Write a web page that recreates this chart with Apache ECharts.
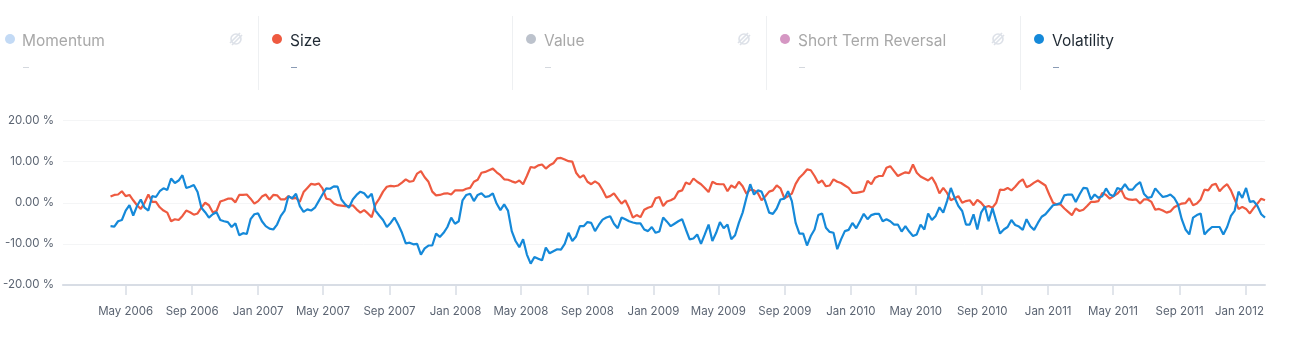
<!DOCTYPE html>
<html>
<head>
<meta charset="utf-8">
<script src="https://cdn.jsdelivr.net/npm/echarts@6/dist/echarts.min.js"></script>
<style>
html, body { margin: 0; padding: 0; background: #fff; }
#main { width: 1289px; height: 340px; }
</style>
</head>
<body>
<div id="main"></div>
<script>
// weekly factor returns, in percent, first week below
var firstWeek = '2006-04-03';

var sizeValues = [
    1.5, 1.9, 2.0, 2.8, 1.6, 1.9, 0.6, -0.6, -1.5, 0, 2.0, 0.2, 0.2, -1.1, -1.9, -2.4, -4.5, -4.0, -4.2, -3.2,
    -1.9, -2.3, -2.9, -2.6, -1.2, 0, -0.6, -2.3, -2.0, 0.3, 0.6, 1.0, 1.0, 0.1, 1.9, 1.9, 2.0, 1.0, -0.2, 0.4,
    1.5, 2.0, 0.8, 1.9, 1.8, 0.8, 0.8, 1.6, 1.0, 1.2, 0.2, 2.6, 3.6, 4.6, 4.4, 4.7, 3.5, 1.0, 0.8,
    -0.2, -0.6, -0.7, -0.8, -0.8, -0.6, -1.6, -2.4, -1.8, -2.6, -3.5, -0.4, 1.0, 2.7, 3.9, 4.1, 4.0, 4.2, 4.9, 5.7,
    5.1, 5.3, 7.1, 7.7, 6.2, 5.1, 2.7, 1.8, 1.9, 2.2, 2.3, 2.0, 3.0, 3.0, 3.0, 3.4, 3.6, 5.1, 5.6, 7.3,
    7.5, 7.9, 8.3, 7.4, 6.7, 5.7, 5.6, 5.2, 4.9, 5.4, 4.5, 6.5, 8.7, 8.5, 9.1, 9.3, 8.3, 9.1, 9.6, 10.8,
    10.9, 10.5, 10.1, 10.0, 7.3, 6.1, 6.7, 5.1, 4.5, 5.2, 4.6, 3.1, 1.3, 1.6, 2.3, 1.0, -0.2, 0.6, -1.3, -3.6,
    -3.0, -3.5, -1.7, -1.2,
    -0.9, 1.1, 1.4, -0.8, 0.3, 0.6, 1.1, 2.7, 3.0, 4.9, 4.5, 5.9, 5.1, 4.5, 3.6, 2.6, 5.1, 4.6, 4.5, 4.5,
    2.8, 4.2, 3.6, 5.1, 4.0, 2.2, 3.2, 3.0, 2.4, 0.6, 1.6, 2.7, 3.0, 4.2, 3.5, 1.1, 1.6, 2.2, 4.6, 6.1,
    7.0, 8.1, 7.9, 6.5, 4.8, 5.4, 4.0, 4.2, 5.7, 5.1, 4.8, 4.2, 3.6, 2.4, 2.4, 2.6, 2.8, 5.3, 4.5, 6.1,
    6.5, 6.5, 8.5, 8.9, 7.7, 6.5, 7.0, 7.4, 7.2, 9.3, 7.3, 6.4, 5.9, 5.4, 6.2, 4.6, 2.3, 3.6, 2.4, 0.6,
    1.1, 1.6, 0, 0.4,
    0.6, -0.6, 0.7, 0, -1.1, -0.8, -1.2, 0, 3.2, 3.1, 3.6, 3.0, 3.9, 5.0, 5.7, 3.8, 4.2, 4.9, 5.4, 4.8,
    4.2, 2.0, 0, -0.4, -0.4, -1.4, -2.2, -3.0, -1.4, -2.0, -1.7, -0.8, 0.2, 0.2, 0.4, 2.4, 1.9, 1.0, 1.6, 2.2,
    3.2, 1.2, 0.8, 0.7, 0.8, -0.2, 0.8, 0.8, 0.2, -1.7, -1.5, -1.9, -2.4, -2.1, -1.1, -0.6, -0.2, -0.1, 1.1, -0.6,
    -0.2, 0.8, 3.2, 3.0, 4.3, 4.6, 2.8, 3.8, 4.5, 3.0, 0.8, -1.5, -1.0, -1.5, -2.6, -1.3, -0.2, 1.0, 0.6
];

var volatilityValues = [
    -5.7, -5.8, -4.5, -4.2, -1.9, -0.6, -3.1, -0.8, 0.8, -1.2, -1.9, 1.6, 1.4, 2.8, 3.5, 3.1, 5.9, 4.8, 5.4, 6.7,
    3.6, 3.9, 4.3, 2.6, -1.2, -2.3, -3.6, -2.8, -2.3, -4.2, -4.5, -4.7, -5.9, -5.0, -7.9, -7.4, -7.6, -4.0, -2.8, -2.6,
    -4.5, -5.7, -6.3, -6.5, -5.3, -3.2, -1.9, 1.6, 1.1, 2.2, -0.8, -2.2, -1.6, -1.9, -1.2, 0.4, 2.0, 3.5, 3.4,
    4.0, 3.9, 0.8, -0.4, -1.2, 0.8, 1.9, 2.7, 2.3, 1.2, 2.2, -1.9, -3.1, -4.2, -5.9, -4.9, -3.6, -5.3, -7.3, -9.9,
    -9.7, -10.1, -10.0, -12.6, -11.1, -10.4, -10.4, -7.5, -8.3, -7.3, -5.9, -3.6, -5.1, -4.5, 0.6, 1.9, 2.2, 0.4, 1.9, 2.3,
    1.4, 1.6, 2.3, -0.2, -1.8, -0.4, -1.9, -6.9, -9.3, -10.8, -8.9, -12.6, -14.8, -13.2, -13.6, -14.0, -10.9, -12.3, -11.8, -11.3,
    -11.4, -10.0, -7.3, -9.3, -8.2, -5.7, -5.7, -4.7, -4.9, -6.9, -5.4, -4.1, -3.6, -3.3, -5.1, -6.2, -3.6, -4.0, -4.5, -4.8,
    -5.0, -5.0, -6.5, -6.9,
    -5.9, -7.3, -7.0, -3.6, -4.6, -5.7, -5.1, -4.5, -4.0, -6.5, -8.9, -8.7, -7.7, -10.0, -7.7, -5.3, -9.3, -7.3, -4.7, -6.2,
    -5.3, -8.9, -7.9, -4.9, -2.4, 1.2, 4.5, 2.0, 3.0, 2.7, 0.4, -2.4, -2.7, -1.4, 0.8, 1.0, 2.8, 0.4, -4.9, -7.5,
    -7.5, -10.4, -8.1, -6.5, -3.0, -2.6, -6.1, -7.1, -7.3, -11.3, -8.9, -6.9, -6.6, -4.9, -6.2, -4.5, -2.7, -4.0, -3.0, -2.7,
    -2.7, -4.5, -4.0, -4.5, -5.3, -5.3, -7.0, -5.7, -7.0, -8.1, -7.7, -5.3, -6.5, -2.6, -4.2, -3.2, -1.1, -2.4, 0.4, 3.6,
    1.2, -0.8, -2.0, -5.3,
    -5.3, -2.8, -6.5, -2.4, -0.9, -4.5, -1.3, -4.5, -7.5, -6.5, -5.9, -4.2, -5.4, -5.8, -6.6, -4.0, -5.7, -6.6, -4.9, -3.4,
    -2.8, -1.7, -0.6, -0.4, -0.1, 1.8, 2.0, 2.0, 0.2, 2.0, 3.6, 3.5, 0.8, 2.0, 1.2, 1.6, 3.5, 2.0, 1.6, 3.6,
    3.2, 4.5, 3.2, 3.2, 4.3, 5.0, 2.2, 1.2, 1.4, 3.5, 2.4, 1.4, 1.6, 2.0, 1.2, -0.4, -4.0, -6.5, -7.7, -3.6,
    -3.0, -2.6, -7.7, -6.7, -5.9, -5.9, -5.9, -7.7, -5.9, -3.2, -1.9, 2.7, 1.2, 3.6, 0.2, 0.4, -0.8, -2.8, -3.6
];

var tickDates = ['2006-05-01', '2006-09-01', '2007-01-01', '2007-05-01', '2007-09-01', '2008-01-01',
    '2008-05-01', '2008-09-01', '2009-01-01', '2009-05-01', '2009-09-01', '2010-01-01', '2010-05-01',
    '2010-09-01', '2011-01-01', '2011-05-01', '2011-09-01', '2012-01-01'];
var monthNames = ['Jan', 'Feb', 'Mar', 'Apr', 'May', 'Jun', 'Jul', 'Aug', 'Sep', 'Oct', 'Nov', 'Dec'];

var legendNames = ['Momentum', 'Size', 'Value', 'Short Term Reversal', 'Volatility'];
var legendColors = ['#c3daf5', '#ee5a40', '#bcc2cc', '#d597c3', '#1589d9'];
var legendActive = [false, true, false, false, true];

var sizeColor = legendColors[1];
var volColor = legendColors[4];
var fontName = 'Inter';

function utc(s) {
    var p = s.split('-');
    return Date.UTC(+p[0], +p[1] - 1, +p[2]);
}

function toPairs(values) {
    var out = [];
    for (var i = 0; i < values.length; i++) {
        out.push([utc(firstWeek) + i * 7 * 86400000, values[i]]);
    }
    return out;
}

var tickTimes = tickDates.map(utc);

function buildLegend() {
    var items = [];
    for (var i = 0; i < legendNames.length; i++) {
        var left = i * 254;
        var on = legendActive[i];
        items.push({
            type: 'circle', silent: true,
            shape: { cx: left + 10 + (i > 0 ? 13 : 0), cy: 39, r: 5 },
            style: { fill: legendColors[i] }
        });
        items.push({
            type: 'text', silent: true,
            style: {
                x: left + 22 + (i > 0 ? 14 : 0), y: 41, text: legendNames[i],
                fill: on ? '#1f2933' : '#a8a8a8',
                font: '15.5px ' + fontName, textVerticalAlign: 'middle'
            }
        });
        items.push({
            type: 'text', silent: true,
            style: {
                x: left + 23 + (i > 0 ? 14 : 0), y: 67, text: '\u2013',
                fill: on ? '#8a9bb5' : '#d4d8de',
                font: '12px ' + fontName, textVerticalAlign: 'middle'
            }
        });
        if (i < legendNames.length - 1) {
            items.push({
                type: 'line', silent: true,
                shape: { x1: left + 258.5, y1: 16, x2: left + 258.5, y2: 90 },
                style: { stroke: '#eef0f2', lineWidth: 1 }
            });
        }
        if (!on) {
            // crossed out eye
            var cx = left + 236, cy = 39;
            items.push({
                type: 'circle', silent: true,
                shape: { cx: cx, cy: cy, r: 5 },
                style: { fill: 'none', stroke: '#dde1e8', lineWidth: 1.6 }
            });
            items.push({
                type: 'line', silent: true,
                shape: { x1: cx - 6, y1: cy + 4, x2: cx + 4, y2: cy - 6 },
                style: { stroke: '#dde1e8', lineWidth: 1.6 }
            });
            items.push({
                type: 'line', silent: true,
                shape: { x1: cx - 4, y1: cy + 6, x2: cx + 6, y2: cy - 4 },
                style: { stroke: '#dde1e8', lineWidth: 1.6 }
            });
        }
    }
    return items;
}

var myChart = echarts.init(document.getElementById('main'), null, { renderer: 'canvas' });

var option = {
    animation: false,
    backgroundColor: '#fff',
    textStyle: { fontFamily: fontName },
    grid: { left: 62, right: 24, top: 120.5, bottom: 55, containLabel: false },
    graphic: buildLegend(),
    xAxis: {
        // plain value axis holding ms, the time axis breaks on customValues
        type: 'value',
        min: utc('2006-01-05'),
        max: utc(firstWeek) + (sizeValues.length - 1) * 7 * 86400000,
        axisLine: { show: true, onZero: false, lineStyle: { color: '#d8dde5', width: 2 } },
        axisTick: { show: true, length: 10, lineStyle: { color: '#d8dde5', width: 1.5 }, customValues: tickTimes },
        splitLine: { show: false },
        axisLabel: {
            color: '#5b6472', fontSize: 11.5, margin: 20.5, hideOverlap: false,
            showMinLabel: true, showMaxLabel: true,
            customValues: tickTimes,
            formatter: function (v) {
                var d = new Date(v);
                var s = monthNames[d.getUTCMonth()] + ' ' + d.getUTCFullYear();
                // last label is pushed left to stay inside the plot
                return v === tickTimes[tickTimes.length - 1] ? '{last|' + s + '}' : s;
            },
            rich: {
                last: { color: '#5b6472', fontSize: 11.5, fontFamily: fontName, padding: [0, 12, 0, 0] }
            }
        }
    },
    yAxis: {
        type: 'value', min: -20, max: 20, interval: 10,
        axisLine: { show: false },
        axisTick: { show: false },
        splitLine: { lineStyle: { color: '#f4f5f6', width: 1 } },
        axisLabel: {
            color: '#5b6472', fontSize: 11.5, margin: 9,
            formatter: function (v) { return v.toFixed(2) + ' %'; }
        }
    },
    series: [
        {
            name: 'Size', type: 'line', showSymbol: false, silent: true,
            data: toPairs(sizeValues),
            lineStyle: { color: sizeColor, width: 2.2 }, itemStyle: { color: sizeColor }
        },
        {
            name: 'Volatility', type: 'line', showSymbol: false, silent: true,
            data: toPairs(volatilityValues),
            lineStyle: { color: volColor, width: 2.2 }, itemStyle: { color: volColor }
        }
    ]
};
myChart.setOption(option);
</script>
</body>
</html>
